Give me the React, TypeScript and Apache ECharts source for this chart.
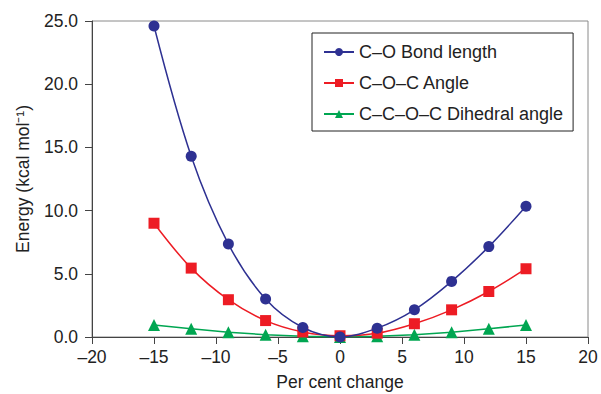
import React, { useEffect, useRef } from "react";
import * as echarts from "echarts";

const xValues = [-15, -12, -9, -6, -3, 0, 3, 6, 9, 12, 15];
const bondLength = [24.6, 14.3, 7.35, 3.0, 0.75, 0.0, 0.7, 2.15, 4.4, 7.15, 10.35];
const cocAngle = [9.0, 5.45, 2.95, 1.3, 0.4, 0.1, 0.3, 1.05, 2.15, 3.6, 5.4];
const dihedral = [0.95, 0.65, 0.38, 0.18, 0.05, 0.0, 0.05, 0.18, 0.38, 0.65, 0.95];
const seriesNames = ["C–O Bond length", "C–O–C Angle", "C–C–O–C Dihedral angle"];
const seriesColors = ["#2e3192", "#ed1c24", "#00a651"];
const markers = ["circle", "rect", "triangle"];

const FONT = "Liberation Sans, Arial, sans-serif";

export default function App() {
  const ref = useRef<HTMLDivElement>(null);
  useEffect(() => {
    document.body.style.margin = "0";
    document.body.style.overflow = "hidden";
    if (!ref.current) return;
    const chart = echarts.init(ref.current, null, { renderer: "svg" });
    const datasets = [bondLength, cocAngle, dihedral];
    chart.setOption({
      animation: false,
      backgroundColor: "#fff",
      textStyle: { fontFamily: FONT },
      grid: {
        left: 92,
        right: 13,
        top: 21,
        bottom: 57,
        outerBoundsMode: "none",
        containLabel: false,
        show: true,
        borderColor: "#8a8a8a",
        borderWidth: 1,
      },
      legend: {
        left: 312,
        top: 33,
        orient: "vertical",
        borderColor: "#222",
        borderWidth: 1,
        padding: [10, 10, 8, 11],
        itemGap: 13,
        itemWidth: 30,
        itemHeight: 10,
        textStyle: { fontSize: 18, color: "#222", fontFamily: FONT },
        data: seriesNames,
      },
      xAxis: {
        type: "value",
        min: -20,
        max: 20,
        interval: 5,
        name: "Per cent change",
        nameLocation: "middle",
        nameGap: 36,
        nameTextStyle: { fontSize: 17.5, color: "#222", fontFamily: FONT },
        axisLine: { show: true, onZero: false, lineStyle: { color: "#444", width: 1 } },
        axisTick: { show: true, inside: false, length: 7, lineStyle: { color: "#444" } },
        axisLabel: {
          fontSize: 17.5,
          color: "#222",
          margin: 11,
          formatter: (v: number) => String(v).replace("-", "–"),
        },
        splitLine: { show: false },
      },
      yAxis: {
        type: "value",
        min: 0,
        max: 25,
        interval: 5,
        name: "Energy (kcal mol⁻¹)",
        nameLocation: "middle",
        nameGap: 60,
        nameTextStyle: { fontSize: 17.5, color: "#222", fontFamily: FONT },
        axisLine: { show: true, onZero: false, lineStyle: { color: "#444", width: 1 } },
        axisTick: { show: true, inside: false, length: 7, lineStyle: { color: "#444" } },
        axisLabel: {
          fontSize: 17.5,
          color: "#222",
          margin: 14,
          formatter: (v: number) => v.toFixed(1),
        },
        splitLine: { show: false },
      },
      series: datasets.map((d, i) => ({
        name: seriesNames[i],
        type: "line",
        smooth: i === 2 ? false : 0.35,
        symbol: markers[i],
        symbolSize: i === 1 ? 11 : i === 0 ? 11 : 12,
        showSymbol: true,
        lineStyle: { color: seriesColors[i], width: 1.5 },
        itemStyle: { color: seriesColors[i] },
        data: xValues.map((x, j) => [x, d[j]]),
        z: 3 - i,
      })),
    });
    return () => chart.dispose();
  }, []);
  return (
    <div
      ref={ref}
      style={{ width: 601, height: 394, position: "fixed", left: 0, top: 0 }}
    />
  );
}
